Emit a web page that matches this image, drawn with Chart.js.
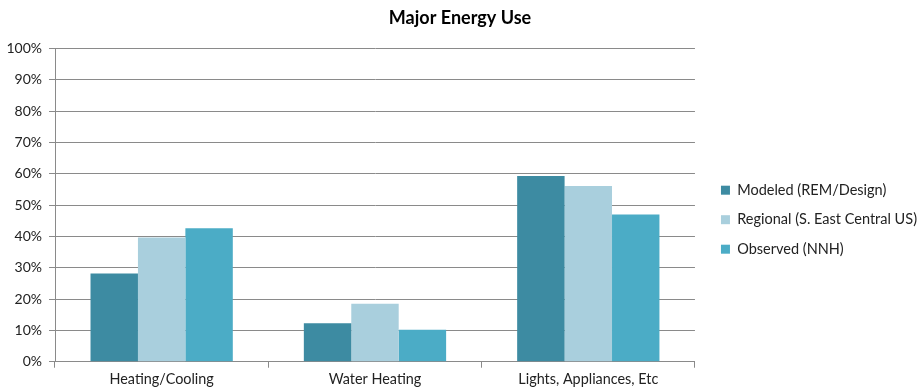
<!DOCTYPE html>
<html>
<head>
<meta charset="utf-8">
<script src="https://cdn.jsdelivr.net/npm/chart.js@4/dist/chart.umd.min.js"></script>
<style>
  html, body { margin: 0; padding: 0; background: #fff; }
  #wrap { width: 924px; height: 392px; }
</style>
</head>
<body>
<div id="wrap"><canvas id="chart"></canvas></div>
<script>
const categories = ['Heating/Cooling', 'Water Heating', 'Lights, Appliances, Etc'];
const seriesNames = ['Modeled (REM/Design)', 'Regional (S. East Central US)', 'Observed (NNH)'];
const modeled = [28.2, 12.3, 59.3];
const regional = [39.7, 18.5, 56.1];
const observed = [42.6, 10.2, 47.0];
const seriesColors = ['#3D8BA2', '#A9CFDD', '#4BACC6'];

const FONT = 'Lato, "Open Sans", sans-serif';

// Moves the legend column a little further from the plot area.
const legendGap = {
  id: 'legendGap',
  afterLayout(chart) {
    const lg = chart.legend;
    if (lg) { lg.left += 11; lg.right += 11; }
  }
};

new Chart(document.getElementById('chart'), {
  type: 'bar',
  data: {
    labels: categories,
    datasets: [modeled, regional, observed].map((vals, i) => ({
      label: seriesNames[i],
      data: vals,
      backgroundColor: seriesColors[i],
      borderWidth: 0,
      barPercentage: 1.0,
      categoryPercentage: 0.667
    }))
  },
  plugins: [legendGap],
  options: {
    responsive: true,
    maintainAspectRatio: false,
    animation: false,
    layout: { padding: { left: 4, right: 8, top: 7, bottom: 1 } },
    plugins: {
      title: {
        display: true,
        text: 'Major Energy Use',
        color: '#000',
        font: { family: FONT, size: 18, weight: 'bold' },
        padding: { top: 0, bottom: 20 }
      },
      legend: {
        position: 'right',
        title: { display: true, text: '', font: { family: FONT, size: 14 }, padding: 12.3 },
        labels: {
          color: '#222',
          font: { family: FONT, size: 14.5 },
          boxWidth: 9,
          boxHeight: 9,
          padding: 15
        }
      },
      tooltip: { enabled: false }
    },
    scales: {
      x: {
        grid: {
          offset: true,
          drawOnChartArea: false,
          drawTicks: true,
          tickLength: 6,
          color: '#8a8a8a'
        },
        border: { color: '#8a8a8a' },
        ticks: { color: '#222', font: { family: FONT, size: 14.4 }, padding: 3 }
      },
      y: {
        min: 0,
        max: 100,
        ticks: {
          stepSize: 10,
          color: '#222',
          font: { family: FONT, size: 14 },
          padding: 7,
          callback: v => v + '%'
        },
        grid: { color: '#8a8a8a', tickLength: 6 },
        border: { color: '#8a8a8a' },
        afterFit: s => { s.width = 51; }
      }
    }
  }
});
</script>
</body>
</html>
